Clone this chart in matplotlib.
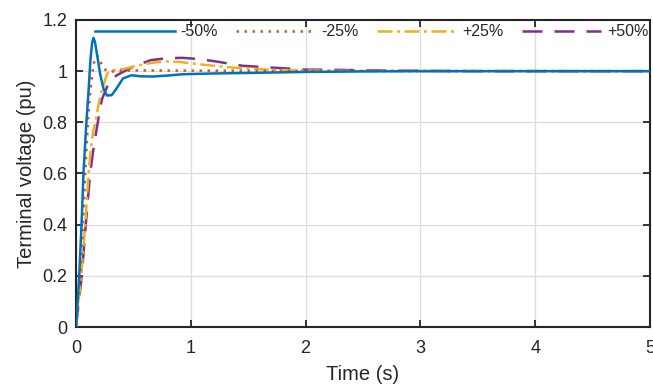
import matplotlib
matplotlib.use("Agg")
import matplotlib.pyplot as plt
from matplotlib import font_manager

names = {f.name for f in font_manager.fontManager.ttflist}
fam = [f for f in ['Liberation Sans', 'DejaVu Sans'] if f in names]
plt.rcParams['font.family'] = fam

labels = ['-50%', '-25%', '+25%', '+50%']

t_m50 = [0, 0.028, 0.048, 0.065, 0.089, 0.109, 0.125, 0.14, 0.152, 0.165, 0.185, 0.21, 0.24, 0.27,
         0.31, 0.35, 0.41, 0.485, 0.56, 0.67, 0.8, 0.93, 1.2, 1.5, 2.0, 2.5, 3.0, 4.0, 5.0]
v_m50 = [0, 0.2, 0.4, 0.6, 0.79, 0.92, 1.04, 1.11, 1.13, 1.115, 1.06, 0.99, 0.93, 0.905,
         0.906, 0.93, 0.972, 0.984, 0.98, 0.979, 0.983, 0.988, 0.991, 0.993, 0.997, 0.999, 1.0, 1.0, 1.0]

t_m25 = [0, 0.036, 0.06, 0.08, 0.1, 0.109, 0.124, 0.14, 0.155, 0.17, 0.185, 0.2, 0.22, 0.245,
         0.27, 0.3, 0.35, 0.5, 1.0, 2.0, 5.0]
v_m25 = [0, 0.2, 0.4, 0.6, 0.77, 0.84, 0.92, 0.984, 1.03, 1.055, 1.06, 1.05, 1.03, 1.01,
         1.0, 0.998, 1.0, 1.003, 1.002, 1.001, 1.0]

t_p25 = [0, 0.045, 0.08, 0.109, 0.13, 0.152, 0.17, 0.195, 0.22, 0.24, 0.27, 0.3, 0.33, 0.41,
         0.5, 0.6, 0.7, 0.79, 0.9, 1.07, 1.36, 1.65, 1.94, 2.3, 3.0, 5.0]
v_p25 = [0, 0.2, 0.4, 0.6, 0.7, 0.77, 0.80, 0.867, 0.92, 0.945, 0.99, 1.0, 1.004, 1.008,
         1.018, 1.028, 1.035, 1.038, 1.036, 1.027, 1.014, 1.006, 1.003, 1.001, 1.0, 1.0]

t_p50 = [0, 0.05, 0.085, 0.123, 0.15, 0.175, 0.19, 0.21, 0.23, 0.254, 0.28, 0.31, 0.36, 0.41,
         0.5, 0.65, 0.8, 0.93, 1.05, 1.19, 1.45, 1.74, 2.0, 2.29, 2.7, 3.5, 5.0]
v_p50 = [0, 0.2, 0.4, 0.6, 0.69, 0.76, 0.80, 0.86, 0.895, 0.92, 0.95, 0.97, 0.985, 0.997,
         1.018, 1.043, 1.051, 1.052, 1.048, 1.04, 1.021, 1.013, 1.006, 1.005, 1.002, 1.0, 1.0]

x_ticks = [0, 1, 2, 3, 4, 5]
y_ticks = [0, 0.2, 0.4, 0.6, 0.8, 1, 1.2]
y_ticklabels = ['0', '0.2', '0.4', '0.6', '0.8', '1', '1.2']

fig = plt.figure(figsize=(6.53, 3.92), dpi=100)
ax = fig.add_axes([0.1164, 0.1658, 0.8790, 0.7832])

lw = 1.8
ax.plot(t_m50, v_m50, color='#0072BD', lw=lw, ls='-', label=labels[0], zorder=5)
ax.plot(t_m25, v_m25, color='#D95319', lw=lw, ls=(0, (1, 2.2)), label=labels[1], zorder=4)
ax.plot(t_p25, v_p25, color='#EDB120', lw=lw, ls=(0, (6, 1.8, 1.2, 1.8)), label=labels[2], zorder=3)
ax.plot(t_p50, v_p50, color='#7E2F8E', lw=lw, ls=(0, (8, 4.8)), label=labels[3], zorder=2)

ax.set_xlim(0, 5)
ax.set_ylim(0, 1.2)
ax.set_xticks(x_ticks)
ax.set_yticks(y_ticks)
ax.set_yticklabels(y_ticklabels)
ax.grid(True, color='#dcdcdc', lw=0.9)
ax.set_axisbelow(True)
ax.tick_params(direction='in', length=5, width=1.3, labelsize=13, colors='#262626',
               top=True, right=True)
ax.tick_params(axis='x', pad=9)
ax.tick_params(axis='y', pad=6)
for s in ax.spines.values():
    s.set_linewidth(1.5)
    s.set_color('#262626')

ax.set_xlabel('Time (s)', fontsize=14.5, color='#262626', labelpad=6)
ax.set_ylabel('Terminal voltage (pu)', fontsize=14.5, color='#262626', labelpad=5)

leg = ax.legend(loc='upper left', bbox_to_anchor=(0.02, 1.012), ncol=4, frameon=False,
                fontsize=11.5, handlelength=4.95, handletextpad=0.38, columnspacing=1.15,
                borderaxespad=0.1)
for t in leg.get_texts():
    t.set_color('#262626')

fig.savefig('out.png', dpi=100)
